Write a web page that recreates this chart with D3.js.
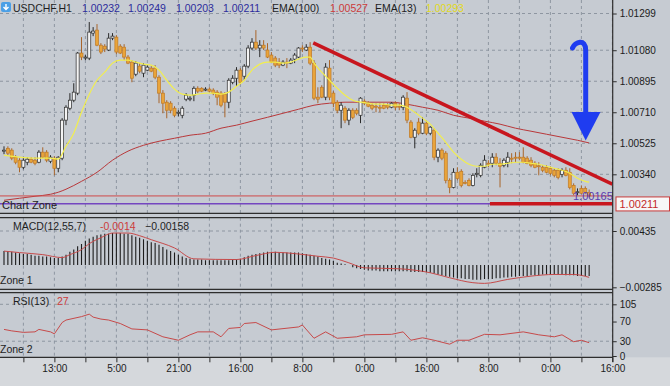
<!DOCTYPE html>
<html>
<head>
<meta charset="utf-8">
<script src="https://cdn.jsdelivr.net/npm/d3@7"></script>
<style>
  body { margin: 0; background: #c6cbd2; }
  svg text { font-family: "Liberation Sans", Arial, sans-serif; }
</style>
</head>
<body>
<svg id="chart" width="670" height="386"></svg>
<script>
// hourly candles, [open, high, low, close]
const candles = [
  [1.00478,1.00507,1.00460,1.00484],[1.00495,1.00507,1.00454,1.00466],[1.00484,1.00495,1.00424,1.00436],
  [1.00442,1.00454,1.00400,1.00412],[1.00424,1.00436,1.00352,1.00382],[1.00382,1.00436,1.00370,1.00424],
  [1.00412,1.00442,1.00394,1.00430],[1.00430,1.00442,1.00406,1.00412],[1.00424,1.00442,1.00394,1.00406],
  [1.00412,1.00484,1.00406,1.00472],[1.00472,1.00501,1.00436,1.00442],[1.00472,1.00484,1.00412,1.00424],
  [1.00418,1.00454,1.00406,1.00442],[1.00436,1.00448,1.00334,1.00376],[1.00376,1.00448,1.00352,1.00442],
  [1.00436,1.00675,1.00424,1.00663],[1.00663,1.00752,1.00633,1.00740],[1.00734,1.00824,1.00722,1.00782],
  [1.00782,1.00883,1.00770,1.00830],[1.00824,1.01069,1.00812,1.01063],[1.01063,1.01158,1.01021,1.01039],
  [1.01033,1.01051,1.01021,1.01039],[1.01033,1.01248,1.01021,1.01188],[1.01182,1.01218,1.01164,1.01194],
  [1.01200,1.01236,1.01104,1.01110],[1.01110,1.01122,1.01057,1.01069],[1.01104,1.01116,1.01069,1.01087],
  [1.01081,1.01182,1.01075,1.01152],[1.01152,1.01182,1.01140,1.01164],[1.01158,1.01170,1.01057,1.01069],
  [1.01104,1.01116,1.01057,1.01063],[1.01098,1.01116,1.01021,1.01039],[1.01039,1.01051,1.00997,1.01003],
  [1.01009,1.01021,1.00889,1.00913],[1.00937,1.01015,1.00925,1.01003],[1.00985,1.01003,1.00943,1.00955],
  [1.00943,1.01003,1.00919,1.00991],[1.00961,1.00991,1.00955,1.00979],[1.00973,1.00985,1.00949,1.00955],
  [1.00973,1.00991,1.00907,1.00919],[1.00919,1.00931,1.00764,1.00824],[1.00824,1.00842,1.00704,1.00764],
  [1.00770,1.00782,1.00674,1.00722],[1.00764,1.00776,1.00704,1.00722],[1.00734,1.00746,1.00680,1.00692],
  [1.00704,1.00722,1.00686,1.00710],[1.00692,1.00746,1.00674,1.00734],[1.00788,1.00824,1.00776,1.00812],
  [1.00788,1.00806,1.00776,1.00794],[1.00812,1.00865,1.00776,1.00853],[1.00853,1.00865,1.00824,1.00836],
  [1.00853,1.00859,1.00830,1.00836],[1.00842,1.00859,1.00836,1.00848],[1.00848,1.00859,1.00830,1.00836],
  [1.00842,1.00853,1.00812,1.00824],[1.00830,1.00842,1.00752,1.00800],[1.00824,1.00836,1.00740,1.00752],
  [1.00818,1.00830,1.00680,1.00770],[1.00770,1.00913,1.00734,1.00901],[1.00889,1.00931,1.00877,1.00913],
  [1.00913,1.00979,1.00865,1.00961],[1.00961,1.00973,1.00877,1.00889],[1.00925,1.00997,1.00901,1.00985],
  [1.00985,1.01110,1.00973,1.01093],[1.01093,1.01152,1.01081,1.01128],[1.01128,1.01200,1.01081,1.01093],
  [1.01093,1.01140,1.01039,1.01110],[1.01110,1.01140,1.01081,1.01093],[1.01081,1.01122,1.01033,1.01039],
  [1.01051,1.01069,1.01003,1.01009],[1.01033,1.01045,1.00979,1.00991],[1.01009,1.01033,1.00973,1.00991],
  [1.00991,1.01021,1.00985,1.01009],[1.01009,1.01033,1.00973,1.01003],[1.01003,1.01033,1.00997,1.01021],
  [1.01027,1.01063,1.01003,1.01051],[1.01039,1.01098,1.01033,1.01093],[1.01093,1.01110,1.01069,1.01087],
  [1.01081,1.01116,1.01075,1.01098],[1.01098,1.01128,1.00991,1.01003],[1.01003,1.01021,1.00782,1.00794],
  [1.00800,1.00859,1.00764,1.00788],[1.00859,1.00871,1.00794,1.00800],[1.00800,1.01003,1.00782,1.00979],
  [1.00973,1.01021,1.00782,1.00800],[1.00824,1.00836,1.00740,1.00764],[1.00770,1.00782,1.00704,1.00722],
  [1.00722,1.00770,1.00615,1.00752],[1.00734,1.00746,1.00645,1.00663],[1.00663,1.00734,1.00633,1.00722],
  [1.00722,1.00734,1.00669,1.00680],[1.00722,1.00734,1.00692,1.00704],[1.00692,1.00800,1.00645,1.00794],
  [1.00776,1.00788,1.00752,1.00764],[1.00764,1.00776,1.00740,1.00746],[1.00752,1.00764,1.00722,1.00734],
  [1.00746,1.00764,1.00710,1.00740],[1.00740,1.00764,1.00710,1.00734],[1.00752,1.00764,1.00728,1.00734],
  [1.00752,1.00764,1.00728,1.00740],[1.00740,1.00770,1.00734,1.00764],[1.00764,1.00776,1.00722,1.00740],
  [1.00746,1.00764,1.00722,1.00740],[1.00740,1.00812,1.00722,1.00800],[1.00794,1.00830,1.00645,1.00663],
  [1.00651,1.00663,1.00555,1.00561],[1.00561,1.00615,1.00495,1.00603],[1.00651,1.00675,1.00573,1.00585],
  [1.00585,1.00680,1.00579,1.00645],[1.00645,1.00657,1.00573,1.00585],[1.00585,1.00627,1.00573,1.00621],
  [1.00603,1.00615,1.00424,1.00442],[1.00442,1.00495,1.00412,1.00484],[1.00484,1.00495,1.00424,1.00436],
  [1.00466,1.00478,1.00286,1.00304],[1.00304,1.00316,1.00227,1.00262],[1.00262,1.00376,1.00256,1.00352],
  [1.00352,1.00382,1.00304,1.00316],[1.00358,1.00370,1.00262,1.00274],[1.00292,1.00304,1.00280,1.00289],
  [1.00304,1.00316,1.00268,1.00274],[1.00274,1.00346,1.00268,1.00334],[1.00340,1.00376,1.00322,1.00346],
  [1.00334,1.00406,1.00322,1.00394],[1.00382,1.00454,1.00376,1.00424],[1.00406,1.00424,1.00382,1.00403],
  [1.00406,1.00466,1.00382,1.00442],[1.00442,1.00466,1.00394,1.00406],[1.00406,1.00436,1.00262,1.00388],
  [1.00394,1.00436,1.00382,1.00424],[1.00412,1.00472,1.00382,1.00442],[1.00436,1.00466,1.00406,1.00433],
  [1.00442,1.00472,1.00412,1.00436],[1.00442,1.00472,1.00424,1.00439],[1.00442,1.00501,1.00406,1.00412],
  [1.00436,1.00448,1.00400,1.00406],[1.00424,1.00442,1.00382,1.00394],[1.00406,1.00418,1.00376,1.00382],
  [1.00391,1.00412,1.00334,1.00385],[1.00382,1.00394,1.00352,1.00364],[1.00382,1.00394,1.00346,1.00352],
  [1.00376,1.00388,1.00334,1.00346],[1.00364,1.00376,1.00322,1.00334],[1.00364,1.00376,1.00310,1.00322],
  [1.00340,1.00376,1.00322,1.00364],[1.00364,1.00382,1.00328,1.00334],[1.00352,1.00376,1.00250,1.00262],
  [1.00274,1.00286,1.00215,1.00227],[1.00233,1.00256,1.00215,1.00236],[1.00256,1.00274,1.00221,1.00227],
  [1.00256,1.00268,1.00221,1.00233],[1.00232,1.00249,1.00203,1.00211]
];

// EMA(13), read at a few bars
const ema13Idx = [0,4,8,12,14,16,18,20,22,24,26,28,30,32,34,36,38,40,42,44,46,48,50,52,54,56,58,60,62,64,66,68,70,72,74,76,78,79,80,82,84,86,88,90,92,94,96,98,100,102,104,106,108,110,112,114,116,118,120,122,124,126,128,130,132,134,136,138,140,142,144,146,148,150,151];
const ema13Val = [1.00454,1.00442,1.00436,1.00436,1.00430,1.00507,1.00585,1.00710,1.00818,1.00901,1.00949,1.01003,1.01021,1.01021,1.01009,1.00997,1.00991,1.00961,1.00901,1.00848,1.00818,1.00812,1.00818,1.00824,1.00824,1.00818,1.00830,1.00865,1.00901,1.00961,1.00997,1.01009,1.01009,1.01003,1.01009,1.01027,1.01039,1.01039,1.01003,1.00949,1.00901,1.00853,1.00812,1.00782,1.00770,1.00764,1.00758,1.00758,1.00752,1.00752,1.00740,1.00710,1.00675,1.00639,1.00585,1.00531,1.00472,1.00430,1.00400,1.00388,1.00388,1.00400,1.00400,1.00406,1.00412,1.00412,1.00406,1.00400,1.00388,1.00376,1.00364,1.00346,1.00316,1.00298,1.00293];

// EMA(100)
const ema100Idx = [0,4,8,12,14,16,20,24,28,32,36,40,44,48,52,56,60,64,68,72,76,80,84,88,92,96,100,104,108,112,116,120,124,128,132,136,140,144,148,151];
const ema100Val = [1.00185,1.00197,1.00209,1.00221,1.00233,1.00251,1.00298,1.00352,1.00424,1.00478,1.00513,1.00537,1.00555,1.00573,1.00585,1.00615,1.00633,1.00657,1.00680,1.00704,1.00728,1.00752,1.00764,1.00770,1.00770,1.00770,1.00770,1.00758,1.00740,1.00722,1.00692,1.00675,1.00657,1.00639,1.00615,1.00597,1.00579,1.00561,1.00543,1.00527];

// MACD(12,55,7) histogram, one per bar
const macdHist = [
  0.0018,0.0018,0.0017,0.0016,0.0015,0.0014,0.0014,0.0013,0.0012,0.0012,
  0.0011,0.0011,0.0010,0.0009,0.0009,0.0011,0.0013,0.0017,0.0020,0.0024,
  0.0027,0.0031,0.0034,0.0036,0.0038,0.0039,0.0040,0.0040,0.0041,0.0041,
  0.0041,0.0040,0.0040,0.0038,0.0036,0.0035,0.0033,0.0031,0.0029,0.0028,
  0.0026,0.0023,0.0020,0.0018,0.0016,0.0013,0.0011,0.0009,0.0008,0.0007,
  0.0007,0.0007,0.0006,0.0006,0.0006,0.0006,0.0006,0.0006,0.0006,0.0007,
  0.0007,0.0008,0.0010,0.0012,0.0013,0.0014,0.0015,0.0016,0.0017,0.0017,
  0.0017,0.0016,0.0016,0.0016,0.0016,0.0016,0.0016,0.0015,0.0014,0.0013,
  0.0012,0.0011,0.0009,0.0008,0.0007,0.0005,0.0003,0.0002,0.0001,0.0000,
  -0.0003,-0.0004,-0.0005,-0.0006,-0.0007,-0.0007,-0.0007,-0.0008,-0.0008,-0.0008,
  -0.0008,-0.0008,-0.0008,-0.0008,-0.0008,-0.0009,-0.0009,-0.0009,-0.0009,-0.0009,
  -0.0010,-0.0011,-0.0012,-0.0013,-0.0014,-0.0015,-0.0016,-0.0017,-0.0017,-0.0018,
  -0.0018,-0.0019,-0.0019,-0.0019,-0.0018,-0.0018,-0.0018,-0.0017,-0.0017,-0.0016,
  -0.0016,-0.0015,-0.0015,-0.0014,-0.0014,-0.0014,-0.0013,-0.0013,-0.0013,-0.0012,
  -0.0012,-0.0012,-0.0012,-0.0012,-0.0012,-0.0013,-0.0013,-0.0013,-0.0014,-0.0014,
  -0.0014,-0.0014
];
const macdSigIdx = [0,4,10,15,17,20,22,25,28,32,35,38,44,49,60,65,70,75,81,85,89,93,102,106,110,115,121,124,130,136,142,147,151];
const macdSigVal = [0.00178,0.00159,0.00133,0.00095,0.00133,0.00197,0.00273,0.00349,0.00409,0.00409,0.00375,0.00324,0.00218,0.00079,0.0007,0.00121,0.00163,0.00146,0.00112,0.00089,0.00028,-0.00036,-0.00048,-0.00066,-0.00099,-0.00163,-0.00226,-0.00235,-0.00184,-0.00142,-0.00121,-0.00121,-0.00158];

// RSI(13)
const rsiIdx = [0,2,5,8,9,12,13,15,16,20,22,23,25,27,30,33,37,41,45,48,50,54,56,58,61,62,65,69,76,77,80,83,86,91,93,100,103,105,108,111,115,117,120,124,128,134,138,142,144,147,149,151];
const rsiVal = [54,51,48,49,54,49,45,68,73,80,85,79,75,73,66,55,53,39,32,43,49,49,39,56,58,66,68,53,59,63,36,49,36,39,43,44,49,32,37,32,24,32,32,44,43,49,43,39,43,29,32,27];

// axis ticks and labels
const priceTicks = [1.01299, 1.01080, 1.00895, 1.00710, 1.00525, 1.00340, 1.00155];
const macdTicks = [0.00435, -0.00285];
const rsiTicks = [105, 70, 30, 0];
const timeLabels = ["13:00","5:00","21:00","16:00","8:00","0:00","16:00","8:00","0:00","16:00"];
const quote = ["1.00232","1.00249","1.00203","1.00211"];   // O H L C
const lastPrice = 1.00211;
const lineLevel = 1.00165;
const trendIdx = [79.8, 157], trendVal = [1.01124, 1.00281];
const supportIdx = [125.4, 157];

const svg = d3.select("#chart");
const plotRight = 612.7;
const font = "'Liberation Sans', Arial, sans-serif";

const x = d3.scaleLinear().domain([0, 157]).range([4, 612.4]);
const y = d3.scaleLinear().domain([1.00340, 1.01299]).range([174.3, 13.5]);
const yMacd = d3.scaleLinear().domain([-0.00285, 0.00435]).range([287.3, 231]);
const yRsi = d3.scaleLinear().domain([0, 105]).range([356, 304.3]);

const panes = [
  { id: "pMain", top: 0, bottom: 213.3 },
  { id: "pMacd", top: 217.7, bottom: 289.3 },
  { id: "pRsi", top: 292.7, bottom: 357.3 }
];

// background
svg.append("rect").attr("width", 670).attr("height", 386).attr("fill", "#c6cbd2");
svg.append("rect").attr("y", 357.3).attr("width", 670).attr("height", 29).attr("fill", "#d5d8dc");

const defs = svg.append("defs");
panes.forEach(p => {
  defs.append("clipPath").attr("id", p.id)
    .append("rect").attr("x", 0).attr("y", p.top).attr("width", plotRight).attr("height", p.bottom - p.top);
});
// the lowest price label only shows under the last-price box
defs.append("clipPath").attr("id", "underBox")
  .append("rect").attr("x", -10).attr("y", y(lastPrice) + 15.5).attr("width", 80).attr("height", 213.3 - y(lastPrice) - 15.5);

// vertical grid, every 8 bars
const gridBars = d3.range(5, 158, 8);
panes.forEach(p => {
  svg.append("g").selectAll("line").data(gridBars).enter().append("line")
    .attr("x1", d => x(d)).attr("x2", d => x(d))
    .attr("y1", p.top).attr("y2", p.bottom)
    .attr("stroke", "#8e96a1").attr("stroke-dasharray", "3,3");
});

// horizontal grid
svg.append("g").selectAll("line").data(priceTicks.slice(0, 6)).enter().append("line")
  .attr("x1", 0).attr("x2", plotRight).attr("y1", d => y(d)).attr("y2", d => y(d))
  .attr("stroke", "#8e96a1").attr("stroke-dasharray", "3,3");
svg.append("line").attr("x1", 0).attr("x2", plotRight)
  .attr("y1", yMacd(macdTicks[0])).attr("y2", yMacd(macdTicks[0]))
  .attr("stroke", "#8e96a1").attr("stroke-dasharray", "3,3");
svg.append("g").selectAll("line").data([105, 30]).enter().append("line")
  .attr("x1", 0).attr("x2", plotRight).attr("y1", d => yRsi(d)).attr("y2", d => yRsi(d))
  .attr("stroke", "#8e96a1").attr("stroke-dasharray", "3,3");

// main pane
const main = svg.append("g").attr("clip-path", "url(#pMain)");

main.append("path")
  .datum(ema100Idx.map((d, k) => [d, ema100Val[k]]))
  .attr("fill", "none").attr("stroke", "#b8383a").attr("stroke-width", 1)
  .attr("d", d3.line().x(d => x(d[0])).y(d => y(d[1])).curve(d3.curveMonotoneX));

// candles
const up = d => d[3] >= d[0];
const bar = main.selectAll(".candle").data(candles).enter().append("g");
bar.append("line")
  .attr("x1", (d, i) => x(i)).attr("x2", (d, i) => x(i))
  .attr("y1", d => y(d[1])).attr("y2", d => y(d[2]))
  .attr("stroke", d => up(d) ? "#2a2a2a" : "#a8652a").attr("stroke-width", 1);
bar.append("rect")
  .attr("x", (d, i) => x(i) - 1.5).attr("width", 3)
  .attr("y", d => y(Math.max(d[0], d[3])))
  .attr("height", d => Math.max(1, Math.abs(y(d[0]) - y(d[3]))))
  .attr("fill", d => up(d) ? "#f3f3f3" : "#e9a43a")
  .attr("stroke", d => up(d) ? "#2a2a2a" : "#c07a26").attr("stroke-width", 0.7);

main.append("path")
  .datum(ema13Idx.map((d, k) => [d, ema13Val[k]]))
  .attr("fill", "none").attr("stroke", "#f2ee4e").attr("stroke-width", 1.2)
  .attr("d", d3.line().x(d => x(d[0])).y(d => y(d[1])).curve(d3.curveMonotoneX));

// current price line, horizontal level and drawn lines
main.append("line").attr("x1", 0).attr("x2", plotRight)
  .attr("y1", y(lastPrice)).attr("y2", y(lastPrice))
  .attr("stroke", "#cf4a4a").attr("stroke-width", 1);
main.append("line").attr("x1", 0).attr("x2", plotRight)
  .attr("y1", y(lineLevel)).attr("y2", y(lineLevel))
  .attr("stroke", "#7446c0").attr("stroke-width", 1.5);
main.append("line")
  .attr("x1", x(supportIdx[0])).attr("x2", x(supportIdx[1]))
  .attr("y1", y(lineLevel)).attr("y2", y(lineLevel))
  .attr("stroke", "#c8161e").attr("stroke-width", 3.5);
main.append("line")
  .attr("x1", x(trendIdx[0])).attr("x2", x(trendIdx[1]))
  .attr("y1", y(trendVal[0])).attr("y2", y(trendVal[1]))
  .attr("stroke", "#c8161e").attr("stroke-width", 3.5);
main.append("text").attr("x", 573).attr("y", y(lineLevel) - 4)
  .attr("font-size", 11).attr("fill", "#5a3cb0").text(d3.format(".5f")(lineLevel));

// blue arrow
main.append("path")
  .attr("d", "M572.5,48 C575,42 585.5,38 585.7,50 L585.7,114")
  .attr("fill", "none").attr("stroke", "#1f3cf0").attr("stroke-width", 5).attr("stroke-linecap", "round");
main.append("path").attr("d", "M571.5,112 L600.5,112 L585.7,140.5 Z").attr("fill", "#1f3cf0");

main.append("text").attr("x", 2).attr("y", 209).attr("font-size", 11).attr("fill", "#222").text("Chart Zone");

// MACD pane
const macd = svg.append("g").attr("clip-path", "url(#pMacd)");
macd.selectAll("line").data(macdHist).enter().append("line")
  .attr("x1", (d, i) => x(i)).attr("x2", (d, i) => x(i))
  .attr("y1", yMacd(0)).attr("y2", d => yMacd(d))
  .attr("stroke", "#1c1c1c").attr("stroke-width", 1.1);
macd.append("path")
  .datum(macdSigIdx.map((d, k) => [d, macdSigVal[k]]))
  .attr("fill", "none").attr("stroke", "#c64a4a").attr("stroke-width", 1)
  .attr("d", d3.line().x(d => x(d[0])).y(d => yMacd(d[1])).curve(d3.curveMonotoneX));

// RSI pane
const rsi = svg.append("g").attr("clip-path", "url(#pRsi)");
rsi.append("path")
  .datum(rsiIdx.map((d, k) => [d, rsiVal[k]]))
  .attr("fill", "none").attr("stroke", "#c64a4a").attr("stroke-width", 1)
  .attr("d", d3.line().x(d => x(d[0])).y(d => yRsi(d[1])));

// pane borders
panes.forEach(p => {
  [p.top, p.bottom].forEach(v => {
    if (v === 0) return;
    svg.append("line").attr("x1", 0).attr("x2", plotRight).attr("y1", v).attr("y2", v)
      .attr("stroke", "#2e2e2e").attr("stroke-width", 1.2);
  });
});
svg.append("line").attr("x1", plotRight).attr("x2", plotRight).attr("y1", 0).attr("y2", 362)
  .attr("stroke", "#2e2e2e").attr("stroke-width", 1.2);

// right axes
function styleAxis(g) {
  g.select(".domain").remove();
  g.attr("font-family", font).attr("font-size", 10);
  g.selectAll("line").attr("stroke", "#2e2e2e");
  g.selectAll("text").attr("fill", "#1c1c1c");
}
svg.append("g").attr("transform", `translate(${plotRight},0)`)
  .call(d3.axisRight(y).tickValues(priceTicks).tickSize(4).tickFormat(d3.format(".5f")))
  .call(styleAxis)
  .selectAll(".tick").filter(d => d === priceTicks[priceTicks.length - 1])
  .attr("clip-path", "url(#underBox)");
svg.append("g").attr("transform", `translate(${plotRight},0)`)
  .call(d3.axisRight(yMacd).tickValues(macdTicks).tickSize(4).tickFormat(d3.format(".5f")))
  .call(styleAxis);
svg.append("g").attr("transform", `translate(${plotRight},0)`)
  .call(d3.axisRight(yRsi).tickValues(rsiTicks).tickSize(4).tickFormat(d3.format("d")))
  .call(styleAxis);

// last price box
svg.append("rect").attr("x", 616).attr("y", y(lastPrice) + 1).attr("width", 53.5).attr("height", 14)
  .attr("fill", "#f7f7f7").attr("stroke", "#c83a3a").attr("stroke-width", 1);
svg.append("text").attr("x", 619.5).attr("y", y(lastPrice) + 12.3)
  .attr("font-size", 11).attr("fill", "#c42a2a").text(d3.format(".5f")(lastPrice));

// time axis
svg.append("g").attr("transform", "translate(0,357.3)")
  .call(d3.axisBottom(x).tickValues(gridBars).tickSize(5)
    .tickFormat(d => (d - 13) % 16 === 0 ? timeLabels[(d - 13) / 16] : ""))
  .call(styleAxis);

// header
const head = svg.append("g").attr("font-size", 10.5);
head.append("rect").attr("x", 1).attr("y", 2).attr("width", 10).attr("height", 10).attr("rx", 2).attr("fill", "#4a9fe6");
head.append("path").attr("d", "M6,4 L6,9 M3.5,7 L6,9.5 L8.5,7").attr("stroke", "#fff").attr("stroke-width", 1.4).attr("fill", "none");
const headItems = [
  ["USDCHF,H1", 13, "#1e1e1e"],
  [quote[0], 82, "#2c2c9c"], [quote[1], 128, "#2c2c9c"], [quote[2], 176, "#2c2c9c"], [quote[3], 223, "#2c2c9c"],
  ["EMA(100)", 272, "#1e1e1e"], [d3.format(".5f")(ema100Val[ema100Val.length - 1]), 330, "#cc3a3a"],
  ["EMA(13)", 375, "#1e1e1e"], [d3.format(".5f")(ema13Val[ema13Val.length - 1]), 426, "#e2da1c"]
];
head.selectAll("text").data(headItems).enter().append("text")
  .attr("x", d => d[1]).attr("y", 11.5).attr("fill", d => d[2]).text(d => d[0]);

// indicator titles and zone names
const titles = [
  ["MACD(12,55,7)", 13, 229.5, "#1e1e1e"], ["-0.0014", 100, 229.5, "#cc3a3a"], [d3.format(".5f")(macdSigVal[macdSigVal.length - 1]), 145, 229.5, "#1e1e1e"],
  ["RSI(13)", 13, 304.5, "#1e1e1e"], [String(rsiVal[rsiVal.length - 1]), 57, 304.5, "#cc3a3a"],
  ["Zone 1", 0, 284, "#1e1e1e"], ["Zone 2", 0, 353, "#1e1e1e"]
];
svg.append("g").attr("font-size", 10.5).selectAll("text").data(titles).enter().append("text")
  .attr("x", d => d[1]).attr("y", d => d[2]).attr("fill", d => d[3]).text(d => d[0]);
</script>
</body>
</html>
